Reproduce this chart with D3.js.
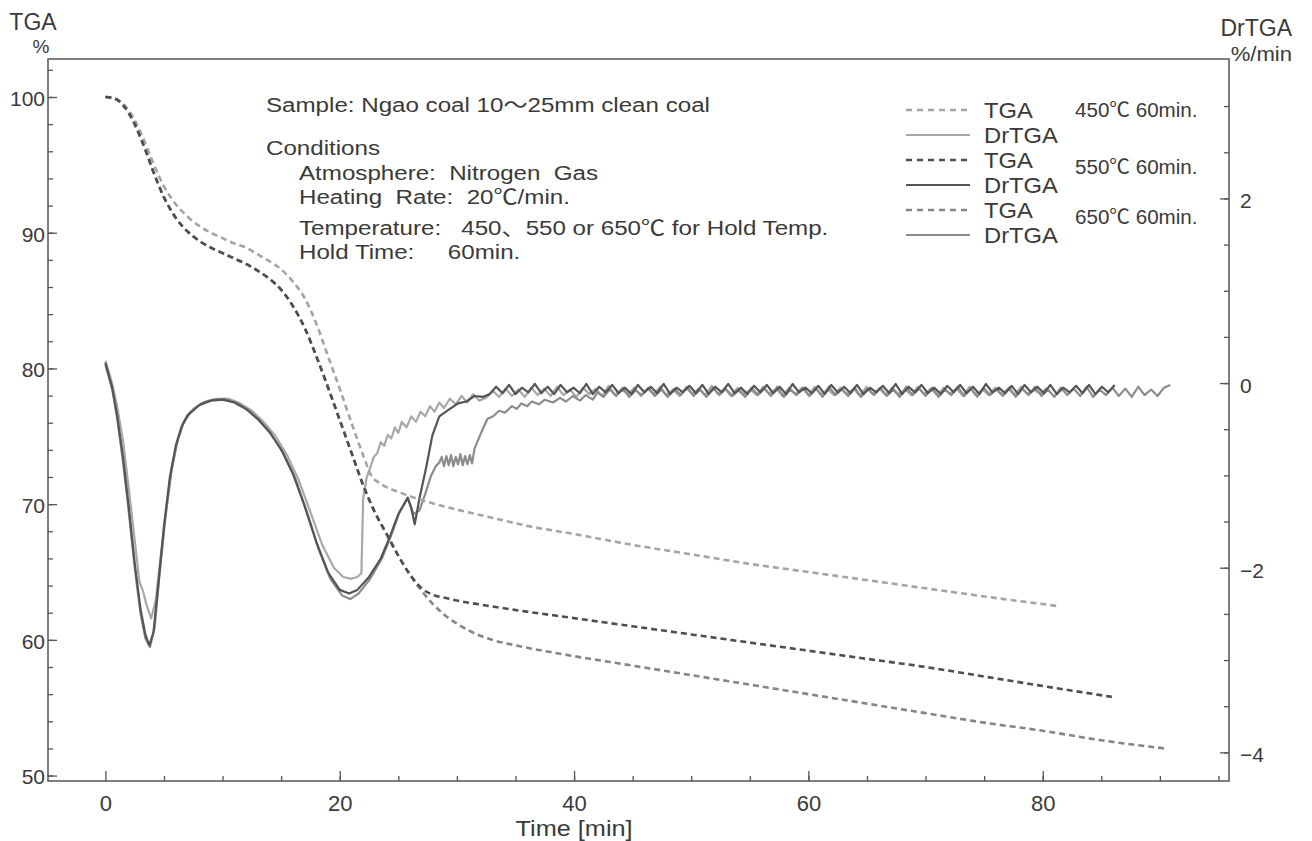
<!DOCTYPE html>
<html>
<head>
<meta charset="utf-8">
<script src="https://d3js.org/d3.v7.min.js"></script>
<style>
  body { margin: 0; background: #fff; }
  text { font-family: "Liberation Sans", Arial, "Noto Sans CJK JP", sans-serif; fill: #3a3a3a; }
</style>
</head>
<body>
<script>
// ---- data ----
// TGA [%] vs time [min]
var tga450 = [[0,100],[0.5,99.95],[1,99.8],[1.5,99.5],[2,99.0],[2.5,98.3],[3,97.4],[3.5,96.4],[4,95.3],[4.5,94.3],[5,93.4],[5.5,92.7],[6,92.1],[7,91.2],[8,90.5],[9,90.0],[10,89.6],[11,89.2],[12,88.9],[13,88.4],[14,87.9],[15,87.3],[16,86.4],[17,85.2],[18,83.3],[19,80.9],[20,78.5],[21,76.0],[22,73.6],[22.7,72.1],[23.5,71.5],[25,70.9],[27,70.3],[30,69.6],[33,69.0],[36,68.4],[40,67.8],[45,67.0],[50,66.3],[55,65.6],[60,65.0],[65,64.4],[70,63.8],[75,63.2],[81.2,62.5]];
var tga550 = [[0,100],[0.5,99.95],[1,99.8],[1.5,99.4],[2,98.8],[2.5,98.0],[3,97.0],[3.5,95.9],[4,94.7],[4.5,93.6],[5,92.6],[5.5,91.8],[6,91.1],[7,90.1],[8,89.4],[9,88.9],[10,88.5],[11,88.1],[12,87.7],[13,87.2],[14,86.6],[15,85.8],[16,84.6],[17,83.0],[18,80.9],[19,78.6],[20,76.2],[21,73.8],[22,71.4],[23,69.4],[24,67.8],[25,66.2],[26,64.8],[27,63.8],[28,63.3],[29,63.1],[30,62.9],[32,62.6],[35,62.2],[40,61.6],[45,61.0],[50,60.4],[55,59.8],[60,59.2],[65,58.6],[70,58.0],[75,57.3],[80,56.6],[85.9,55.8]];
var tga650 = [[0,100],[0.5,99.95],[1,99.8],[1.5,99.4],[2,98.8],[2.5,98.0],[3,97.0],[3.5,95.9],[4,94.7],[4.5,93.6],[5,92.6],[5.5,91.8],[6,91.1],[7,90.1],[8,89.4],[9,88.9],[10,88.5],[11,88.1],[12,87.7],[13,87.2],[14,86.6],[15,85.8],[16,84.6],[17,83.0],[18,80.9],[19,78.6],[20,76.2],[21,73.8],[22,71.4],[23,69.4],[24,67.8],[25,66.2],[26,64.8],[27,63.6],[28,62.6],[29,61.8],[30,61.2],[31,60.7],[32,60.3],[33,60.0],[35,59.6],[40,58.8],[45,58.1],[50,57.4],[55,56.7],[60,56.0],[65,55.3],[70,54.6],[75,53.9],[80,53.3],[85,52.6],[90.4,52.0]];

// DrTGA [%/min]: heating part as [t, v]; hold part sampled every tailStep min
var dr450Head = [[0,0.24],[0.3,0.12],[0.6,-0.02],[1.0,-0.25],[1.5,-0.62],[2.0,-1.15],[2.5,-1.7],[2.9,-2.15],[3.2,-2.25],[3.5,-2.4],[3.9,-2.55],[4.3,-2.35],[4.7,-1.9],[5.2,-1.35],[5.7,-0.9],[6.2,-0.6],[6.7,-0.42],[7.5,-0.28],[8.5,-0.2],[9.5,-0.17],[10.5,-0.17],[11.5,-0.22],[12.5,-0.3],[13.5,-0.42],[14.5,-0.57],[15.5,-0.78],[16.5,-1.05],[17.5,-1.4],[18.5,-1.75],[19.5,-2.0],[20.3,-2.1],[21.0,-2.12],[21.5,-2.1],[21.85,-2.06],[22.0,-1.25],[22.3,-1.02],[22.6,-0.92],[22.9,-0.8],[23.2,-0.76],[23.5,-0.64],[23.8,-0.68],[24.1,-0.56],[24.4,-0.6],[24.7,-0.48],[25.0,-0.54],[25.3,-0.42],[25.7,-0.48],[26.1,-0.36],[26.5,-0.42],[26.9,-0.31],[27.3,-0.36],[27.7,-0.25],[28.1,-0.31],[28.5,-0.21],[28.9,-0.27],[29.4,-0.17],[29.9,-0.23],[30.4,-0.14],[30.9,-0.21],[31.4,-0.12],[31.9,-0.19]];
var dr550Head = [[0,0.22],[0.3,0.08],[0.6,-0.06],[1.0,-0.35],[1.5,-0.8],[2.0,-1.35],[2.5,-1.95],[3.0,-2.45],[3.4,-2.72],[3.75,-2.84],[4.1,-2.7],[4.5,-2.2],[5.0,-1.55],[5.5,-1.02],[6.0,-0.68],[6.5,-0.47],[7.0,-0.35],[8,-0.24],[9,-0.19],[10,-0.18],[11,-0.21],[12,-0.28],[13,-0.39],[14,-0.53],[15,-0.72],[16,-0.98],[17,-1.33],[18,-1.72],[19,-2.05],[20,-2.24],[20.8,-2.28],[21.5,-2.24],[22.5,-2.1],[23.5,-1.9],[24.2,-1.69],[25.0,-1.42],[25.8,-1.24],[26.1,-1.35],[26.4,-1.53],[26.8,-1.25],[27.4,-0.9],[27.9,-0.57],[28.5,-0.36],[29.4,-0.28],[30.1,-0.22],[30.8,-0.2],[31.5,-0.14],[32.2,-0.15]];
var dr650Head = [[0,0.2],[0.3,0.06],[0.6,-0.08],[1.0,-0.38],[1.5,-0.85],[2.0,-1.4],[2.5,-2.0],[3.0,-2.5],[3.4,-2.76],[3.8,-2.86],[4.2,-2.65],[4.6,-2.1],[5.1,-1.48],[5.6,-0.98],[6.1,-0.65],[6.6,-0.45],[7.2,-0.32],[8.2,-0.22],[9.2,-0.18],[10.2,-0.17],[11.2,-0.21],[12.2,-0.29],[13.2,-0.41],[14.2,-0.56],[15.2,-0.76],[16.2,-1.03],[17.2,-1.4],[18.2,-1.8],[19.2,-2.12],[20.2,-2.3],[20.9,-2.34],[21.6,-2.28],[22.6,-2.12],[23.6,-1.9],[24.3,-1.68],[25.1,-1.4],[25.8,-1.25],[26.3,-1.42],[26.8,-1.38],[27.3,-1.2],[27.8,-1.0],[28.2,-0.9],[28.5,-0.86],[28.7,-0.8],[28.9,-0.9],[29.1,-0.79],[29.3,-0.89],[29.5,-0.78],[29.7,-0.9],[29.9,-0.8],[30.1,-0.88],[30.3,-0.77],[30.5,-0.89],[30.7,-0.79],[30.9,-0.88],[31.1,-0.78],[31.3,-0.87],[31.5,-0.71],[32.2,-0.5],[32.6,-0.39],[33.1,-0.36],[33.6,-0.3],[34.1,-0.32],[34.7,-0.25],[35.1,-0.28],[35.5,-0.22],[36.0,-0.25],[36.4,-0.2],[37.0,-0.23],[37.5,-0.18],[38.2,-0.21],[38.8,-0.16],[39.3,-0.2],[39.9,-0.14],[40.5,-0.19],[41.0,-0.13],[41.6,-0.18],[42.0,-0.1]];

var tailStep = 0.55;
var dr450Start = 32.5;
var dr450Tail = [-0.16,-0.08,-0.15,-0.06,-0.14,-0.07,-0.15,-0.05,-0.13,-0.06,
  -0.14,-0.04,-0.13,-0.07,-0.15,-0.05,-0.12,-0.06,-0.14,-0.03,
  -0.13,-0.07,-0.12,-0.05,-0.14,-0.06,-0.12,-0.04,-0.13,-0.07,
  -0.14,-0.05,-0.12,-0.06,-0.13,-0.03,-0.12,-0.06,-0.14,-0.05,
  -0.12,-0.07,-0.13,-0.04,-0.12,-0.06,-0.14,-0.05,-0.12,-0.05,
  -0.13,-0.04,-0.12,-0.07,-0.13,-0.05,-0.12,-0.06,-0.14,-0.04,
  -0.12,-0.06,-0.13,-0.05,-0.12,-0.07,-0.13,-0.04,-0.12,-0.06,
  -0.13,-0.05,-0.12,-0.06,-0.14,-0.04,-0.12,-0.07,-0.13,-0.05,
  -0.12,-0.06,-0.13,-0.04,-0.12,-0.07,-0.12,-0.05];
var dr550Start = 32.8;
var dr550Tail = [-0.12,-0.04,-0.11,-0.02,-0.12,-0.05,-0.10,-0.01,-0.11,-0.04,
  -0.12,-0.02,-0.10,-0.05,-0.11,-0.01,-0.12,-0.04,-0.10,-0.02,
  -0.11,-0.05,-0.12,-0.02,-0.10,-0.04,-0.11,-0.01,-0.12,-0.05,
  -0.10,-0.03,-0.11,-0.02,-0.12,-0.04,-0.10,-0.01,-0.11,-0.05,
  -0.12,-0.03,-0.10,-0.02,-0.11,-0.04,-0.12,-0.01,-0.10,-0.05,
  -0.11,-0.03,-0.12,-0.02,-0.10,-0.04,-0.11,-0.02,-0.12,-0.05,
  -0.10,-0.03,-0.11,-0.01,-0.12,-0.04,-0.10,-0.02,-0.11,-0.05,
  -0.12,-0.03,-0.10,-0.02,-0.11,-0.04,-0.12,-0.01,-0.10,-0.05,
  -0.11,-0.03,-0.12,-0.02,-0.10,-0.04,-0.11,-0.02,-0.12,-0.05,
  -0.10,-0.03,-0.11,-0.02,-0.12,-0.04,-0.10,-0.02];
var dr650Start = 42.5;
var dr650Tail = [-0.15,-0.07,-0.14,-0.05,-0.15,-0.08,-0.13,-0.05,-0.14,-0.07,
  -0.15,-0.06,-0.13,-0.04,-0.14,-0.07,-0.15,-0.05,-0.13,-0.06,
  -0.14,-0.08,-0.15,-0.05,-0.13,-0.06,-0.14,-0.04,-0.15,-0.07,
  -0.13,-0.05,-0.14,-0.06,-0.15,-0.04,-0.13,-0.07,-0.14,-0.05,
  -0.15,-0.06,-0.13,-0.05,-0.14,-0.07,-0.15,-0.04,-0.13,-0.06,
  -0.14,-0.05,-0.15,-0.07,-0.13,-0.04,-0.14,-0.06,-0.15,-0.05,
  -0.13,-0.07,-0.14,-0.05,-0.15,-0.06,-0.13,-0.04,-0.14,-0.07,
  -0.15,-0.05,-0.13,-0.06,-0.14,-0.04,-0.15,-0.07,-0.13,-0.05,
  -0.14,-0.06,-0.15,-0.04,-0.13,-0.07,-0.14,-0.05,-0.02];

var xMajor = [0, 20, 40, 60, 80];
var yLeftMajor = [50, 60, 70, 80, 90, 100];
var yRightMajor = [-4, -2, 0, 2];
var legendRows = ["TGA", "DrTGA", "TGA", "DrTGA", "TGA", "DrTGA"];
var legendTemps = ["450℃ 60min.", "550℃ 60min.", "650℃ 60min."];
var noteLines = [
  "Sample: Ngao coal 10〜25mm clean coal",
  "Conditions",
  "Atmosphere:  Nitrogen  Gas",
  "Heating  Rate:  20℃/min.",
  "Temperature:   450、550 or 650℃ for Hold Temp.",
  "Hold Time:     60min."
];

var colors = { t450: "#a4a4a4", t550: "#4e4e4e", t650: "#858585",
               d450: "#a8a8a8", d550: "#555555", d650: "#8c8c8c" };

// ---- build full DrTGA series ----
function withTail(head, start, tail) {
  return head.concat(tail.map(function(v, i) { return [start + i * tailStep, v]; }));
}
var dr450 = withTail(dr450Head, dr450Start, dr450Tail);
var dr550 = withTail(dr550Head, dr550Start, dr550Tail);
var dr650 = withTail(dr650Head, dr650Start, dr650Tail);

// ---- chart ----
var W = 1312, H = 841;
var L = 48, R = 1229, T = 59, B = 781;

var svg = d3.select("body").append("svg").attr("width", W).attr("height", H);

var x = d3.scaleLinear().domain([-4.9, 95.9]).range([L, R]);
var yL = d3.scaleLinear().domain([49.6, 102.8]).range([B, T]);
var yR = d3.scaleLinear().domain([-4.31, 3.51]).range([B, T]);

var axisColor = "#555";

// frame
svg.append("rect").attr("x", L).attr("y", T).attr("width", R - L).attr("height", B - T)
   .attr("fill", "none").attr("stroke", axisColor).attr("stroke-width", 1.5);

function styleAxis(g) {
  g.select(".domain").remove();
  g.selectAll(".tick line").attr("stroke", axisColor).attr("stroke-width", 1.3);
  g.selectAll(".tick text").attr("fill", "#3a3a3a").style("font-size", "21px")
   .style("font-family", '"Liberation Sans", Arial, sans-serif');
}

// x axis (ticks inward)
svg.append("g").attr("transform", "translate(0," + B + ")")
   .call(d3.axisBottom(x).tickValues(d3.range(5, 96, 5)).tickSize(-5).tickFormat(""))
   .call(styleAxis);
svg.append("g").attr("transform", "translate(0," + B + ")")
   .call(d3.axisBottom(x).tickValues(xMajor).tickSize(-10).tickPadding(14).tickFormat(d3.format("d")))
   .call(styleAxis)
   .selectAll(".tick text").style("font-size", "22px");

// left axis
svg.append("g").attr("transform", "translate(" + L + ",0)")
   .call(d3.axisLeft(yL).tickValues(d3.range(50, 103, 2)).tickSize(-5).tickFormat(""))
   .call(styleAxis);
svg.append("g").attr("transform", "translate(" + L + ",0)")
   .call(d3.axisLeft(yL).tickValues(yLeftMajor).tickSize(-9).tickPadding(3).tickFormat(d3.format("d")))
   .call(styleAxis)
   .selectAll(".tick text").attr("dy", "0.4em");

// right axis
svg.append("g").attr("transform", "translate(" + R + ",0)")
   .call(d3.axisRight(yR).tickValues(d3.range(-4, 3.01, 0.5)).tickSize(-5).tickFormat(""))
   .call(styleAxis);
svg.append("g").attr("transform", "translate(" + R + ",0)")
   .call(d3.axisRight(yR).tickValues(yRightMajor).tickSize(-9).tickPadding(11)
         .tickFormat(function(d) { return d < 0 ? "\u2212" + Math.abs(d) : d; }))
   .call(styleAxis)
   .selectAll(".tick text").attr("dy", "0.45em");

// horizontally stretched text helper (the scan uses a wide gothic face)
function label(px, py, str, size, sx, anchor) {
  return svg.append("text")
    .attr("transform", "translate(" + px + "," + py + ") scale(" + sx + ",1)")
    .attr("text-anchor", anchor || "start")
    .style("font-size", size + "px").style("white-space", "pre").text(str);
}

// axis titles
label(33, 30, "TGA", 23, 1, "middle");
label(41, 53, "%", 19, 1, "middle");
label(1292, 36, "DrTGA", 23, 1, "end");
label(1292, 61, "%/min", 21, 1.05, "end");
label(x(40), 836, "Time [min]", 22, 1.15, "middle");

// curves
var lineL = d3.line().x(function(d) { return x(d[0]); }).y(function(d) { return yL(d[1]); }).curve(d3.curveMonotoneX);
var lineR = d3.line().x(function(d) { return x(d[0]); }).y(function(d) { return yR(d[1]); });

var plot = svg.append("g");
[[dr450, colors.d450], [dr650, colors.d650], [dr550, colors.d550]].forEach(function(s) {
  plot.append("path").datum(s[0]).attr("d", lineR).attr("fill", "none")
      .attr("stroke", s[1]).attr("stroke-width", 2.2).attr("stroke-linejoin", "round");
});
[[tga450, colors.t450], [tga650, colors.t650], [tga550, colors.t550]].forEach(function(s) {
  plot.append("path").datum(s[0]).attr("d", lineL).attr("fill", "none")
      .attr("stroke", s[1]).attr("stroke-width", 2.6).attr("stroke-dasharray", "6,4");
});

// annotation
var noteX = [266, 266, 299, 299, 299, 299];
var noteY = [112, 155, 180, 204, 235, 259];
noteLines.forEach(function(t, i) {
  label(noteX[i], noteY[i], t, 21, 1.15);
});

// legend
var legColors = [colors.t450, colors.d450, colors.t550, colors.d550, colors.t650, colors.d650];
legendRows.forEach(function(lab, i) {
  var yy = 110 + i * 25;
  svg.append("line").attr("x1", 906).attr("x2", 970).attr("y1", yy).attr("y2", yy)
     .attr("stroke", legColors[i]).attr("stroke-width", lab === "TGA" ? 2.4 : 2)
     .attr("stroke-dasharray", lab === "TGA" ? "6,5" : null);
  label(984, yy + 8, lab, 22, 1.08);
});
var tempY = [110, 167, 217];
legendTemps.forEach(function(t, i) {
  label(1075, tempY[i] + 7, t, 20, 1.03);
});
</script>
</body>
</html>
